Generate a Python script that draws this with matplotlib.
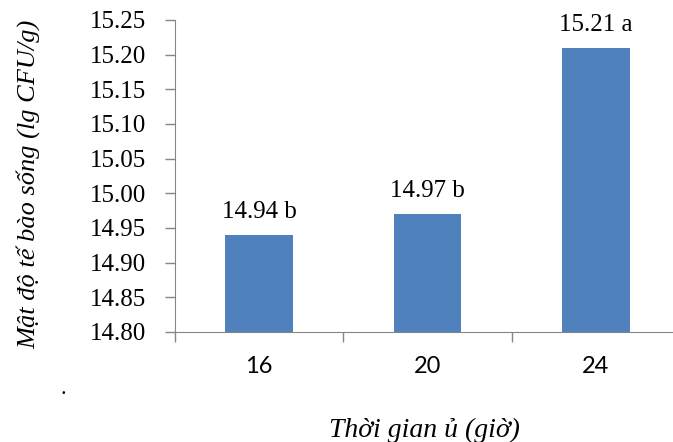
import matplotlib
matplotlib.use("Agg")
import matplotlib.pyplot as plt

hours = ["16", "20", "24"]
density = [14.94, 14.97, 15.21]
letters = ["b", "b", "a"]
yticks = [14.80, 14.85, 14.90, 14.95, 15.00, 15.05, 15.10, 15.15, 15.20, 15.25]

W, H = 673, 442
fig = plt.figure(figsize=(W / 100, H / 100), dpi=100)
ax = fig.add_axes([175 / W, (H - 332) / H, 505 / W, 312 / H])

gray = "#868686"
x = range(len(hours))
ax.bar(x, [v - 14.80 for v in density], bottom=14.80, width=0.4, color="#4F81BD")
for i, v in enumerate(density):
    ax.text(i, v + 0.017, f"{v:.2f} {letters[i]}", ha="center", va="bottom",
            fontsize=18, family="Liberation Serif")

ax.set_xlim(-0.5, 2.5)
ax.set_ylim(14.80, 15.25)
ax.set_yticks(yticks)
ax.set_yticklabels([f"{t:.2f}" for t in yticks], family="Liberation Serif", fontsize=18)
ax.set_xticks([0, 1, 2])
ax.set_xticklabels(hours, family="Lato", fontsize=17)
ax.set_xticks([-0.5, 0.5, 1.5, 2.5], minor=True)
ax.tick_params(axis="x", which="major", length=0, pad=17)
ax.tick_params(axis="x", which="minor", length=7, color=gray, width=1)
ax.tick_params(axis="y", length=7, color=gray, width=1, pad=14)

for s in ["top", "right"]:
    ax.spines[s].set_visible(False)
ax.spines["left"].set_color(gray)
ax.spines["bottom"].set_color(gray)

fig.text(28 / W, 1 - 184 / H, "Mật độ tế bào sống (lg CFU/g)", rotation=90,
         ha="center", va="center", fontsize=19, style="italic", family="Liberation Serif")
fig.text(424 / W, 1 - 430 / H, "Thời gian ủ (giờ)", ha="center", va="center",
         fontsize=20, style="italic", family="Liberation Serif")
fig.text(63 / W, 1 - 389 / H, ".", ha="center", va="center", fontsize=16,
         family="Liberation Serif")

fig.savefig("out.png", dpi=100)
